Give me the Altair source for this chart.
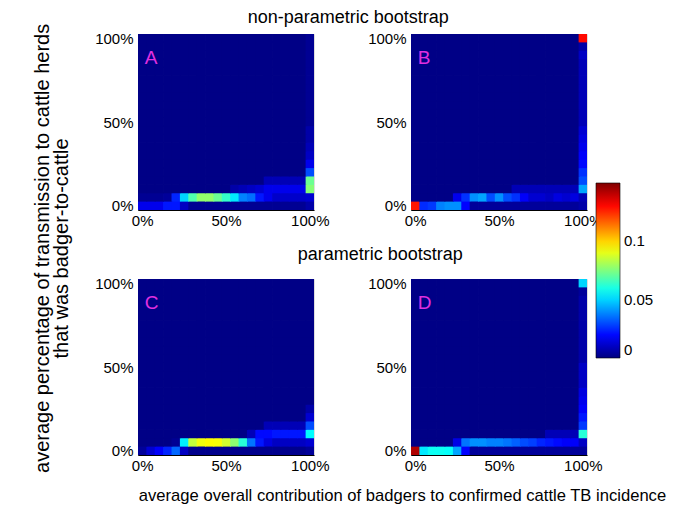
import altair as alt
import pandas as pd

# bin centres (percent) for both axes: 0%, 5%, ..., 100%
BINS = [0, 5, 10, 15, 20, 25, 30, 35, 40, 45, 50, 55, 60, 65, 70, 75, 80, 85, 90, 95, 100]
BG = 0.001  # background density

# ---- panel A (non-parametric) ----  rows 0-3 = y bins 0%,5%,10%,15% for x bins 0..95%
A_row0 = [0.016, 0.016, 0.016, 0.022, 0.022, 0.010, 0.003, 0.003, 0.003, 0.003,
          0.003, 0.003, 0.003, 0.003, 0.003, 0.003, 0.003, 0.003, 0.003, 0.003]
A_row1 = [0.003, 0.003, 0.003, 0.004, 0.024, 0.050, 0.068, 0.078, 0.078, 0.072,
          0.064, 0.053, 0.038, 0.035, 0.022, 0.016, 0.011, 0.011, 0.011, 0.011]
A_row2 = [0.001, 0.001, 0.001, 0.001, 0.001, 0.001, 0.001, 0.001, 0.001, 0.001,
          0.001, 0.006, 0.008, 0.010, 0.012, 0.016, 0.016, 0.016, 0.016, 0.016]
A_row3 = [0.001, 0.001, 0.001, 0.001, 0.001, 0.001, 0.001, 0.001, 0.001, 0.001,
          0.001, 0.001, 0.001, 0.001, 0.001, 0.008, 0.008, 0.008, 0.008, 0.008]
# x bin 100%, y bins 0%..100%
A_col20 = [0.006, 0.012, 0.076, 0.072, 0.030, 0.016, 0.010, 0.008, 0.006, 0.006, 0.003,
           0.003, 0.003, 0.003, 0.003, 0.003, 0.003, 0.003, 0.003, 0.003, 0.003]

# ---- panel B (non-parametric) ----
B_row0 = [0.128, 0.025, 0.027, 0.038, 0.040, 0.040, 0.019, 0.004, 0.004, 0.004,
          0.004, 0.004, 0.004, 0.004, 0.004, 0.004, 0.004, 0.004, 0.004, 0.004]
B_row1 = [0.001, 0.001, 0.001, 0.001, 0.001, 0.016, 0.026, 0.040, 0.043, 0.030,
          0.040, 0.030, 0.026, 0.018, 0.012, 0.012, 0.010, 0.014, 0.012, 0.014]
B_row2 = [0.001, 0.001, 0.001, 0.001, 0.001, 0.001, 0.001, 0.001, 0.001, 0.001,
          0.001, 0.001, 0.008, 0.008, 0.008, 0.008, 0.008, 0.008, 0.008, 0.008]
B_row3 = [0.001, 0.001, 0.001, 0.001, 0.001, 0.001, 0.001, 0.001, 0.001, 0.001,
          0.001, 0.001, 0.001, 0.001, 0.001, 0.001, 0.001, 0.001, 0.001, 0.001]
B_col20 = [0.006, 0.008, 0.043, 0.030, 0.026, 0.020, 0.018, 0.016, 0.014, 0.012, 0.008,
           0.008, 0.008, 0.008, 0.008, 0.008, 0.008, 0.008, 0.010, 0.006, 0.130]

# ---- panel C (parametric) ----
C_row0 = [0.004, 0.012, 0.018, 0.024, 0.034, 0.010, 0.002, 0.002, 0.002, 0.002,
          0.002, 0.002, 0.002, 0.002, 0.002, 0.002, 0.002, 0.002, 0.002, 0.002]
C_row1 = [0.001, 0.001, 0.001, 0.001, 0.003, 0.054, 0.085, 0.092, 0.094, 0.093,
          0.087, 0.077, 0.062, 0.036, 0.022, 0.014, 0.010, 0.010, 0.010, 0.010]
C_row2 = [0.001, 0.001, 0.001, 0.001, 0.001, 0.001, 0.001, 0.001, 0.001, 0.001,
          0.001, 0.001, 0.001, 0.008, 0.020, 0.020, 0.022, 0.022, 0.022, 0.022]
C_row3 = [0.001, 0.001, 0.001, 0.001, 0.001, 0.001, 0.001, 0.001, 0.001, 0.001,
          0.001, 0.001, 0.001, 0.001, 0.001, 0.008, 0.008, 0.008, 0.008, 0.008]
C_col20 = [0.004, 0.012, 0.056, 0.030, 0.012, 0.006, 0.001, 0.001, 0.001, 0.001, 0.001,
           0.001, 0.001, 0.001, 0.001, 0.001, 0.001, 0.001, 0.001, 0.001, 0.001]

# ---- panel D (parametric) ----
D_row0 = [0.143, 0.053, 0.058, 0.058, 0.057, 0.043, 0.019, 0.004, 0.004, 0.004,
          0.004, 0.004, 0.004, 0.004, 0.004, 0.004, 0.004, 0.004, 0.004, 0.004]
D_row1 = [0.001, 0.001, 0.001, 0.001, 0.001, 0.015, 0.036, 0.040, 0.040, 0.038,
          0.038, 0.036, 0.033, 0.030, 0.028, 0.024, 0.022, 0.020, 0.018, 0.018]
D_row2 = [0.001, 0.001, 0.001, 0.001, 0.001, 0.001, 0.001, 0.001, 0.001, 0.001,
          0.001, 0.001, 0.001, 0.001, 0.001, 0.001, 0.008, 0.008, 0.008, 0.008]
D_row3 = [0.001, 0.001, 0.001, 0.001, 0.001, 0.001, 0.001, 0.001, 0.001, 0.001,
          0.001, 0.001, 0.001, 0.001, 0.001, 0.001, 0.001, 0.001, 0.001, 0.001]
D_col20 = [0.004, 0.010, 0.062, 0.027, 0.022, 0.018, 0.016, 0.014, 0.010, 0.010, 0.010,
           0.006, 0.006, 0.006, 0.006, 0.006, 0.006, 0.006, 0.006, 0.004, 0.050]

PANELS = {
    "A": (A_row0, A_row1, A_row2, A_row3, A_col20),
    "B": (B_row0, B_row1, B_row2, B_row3, B_col20),
    "C": (C_row0, C_row1, C_row2, C_row3, C_col20),
    "D": (D_row0, D_row1, D_row2, D_row3, D_col20),
}

TICKS = [0, 50, 100]
CBAR_TICKS = [0, 0.05, 0.1]
JET = ["#00007F", "#0000FF", "#007FFF", "#00FFFF", "#7FFF7F",
       "#FFFF00", "#FF7F00", "#FF0000", "#7F0000"]

TOP_TITLE = "non-parametric bootstrap"
BOTTOM_TITLE = "parametric bootstrap"
Y_TITLE = ["average percentage of transmission to cattle herds", "that was badger-to-cattle"]
X_TITLE = "average overall contribution of badgers to confirmed cattle TB incidence"

FONT = "Liberation Sans"
HALF = 2.5

records = []
for name, (r0, r1, r2, r3, c20) in PANELS.items():
    rows = [r0, r1, r2, r3]
    for i, yb in enumerate(BINS):
        for j, xb in enumerate(BINS):
            if j == 20:
                v = c20[i]
            elif i < 4:
                v = rows[i][j]
            else:
                v = BG
            records.append({"panel": name, "x0": xb - HALF, "x1": xb + HALF,
                            "y0": yb - HALF, "y1": yb + HALF, "v": v})
df = pd.DataFrame(records)

color_scale = alt.Scale(domain=[0, 0.15], range=JET, interpolate="rgb")
legend = alt.Legend(type="gradient", orient="none", legendX=458, legendY=149,
                    direction="vertical", gradientLength=175, gradientThickness=24,
                    title=None, values=CBAR_TICKS, format="~g", labelFontSize=15,
                    labelFont=FONT, labelColor="black", gradientStrokeColor="black",
                    gradientStrokeWidth=0.6, labelOffset=4)

xs = alt.Scale(domain=[-HALF, 100 + HALF], nice=False, zero=False)
ys = alt.Scale(domain=[-HALF, 100 + HALF], nice=False, zero=False)


def panel(name, xtitle=None):
    xaxis_kw = dict(values=TICKS, labelExpr="datum.value + '%'", ticks=False,
                    domainColor="black", labelFontSize=15, labelPadding=3,
                    labelColor="black", labelFont=FONT, grid=False)
    if xtitle:
        xaxis = alt.Axis(title=xtitle, titleX=264, titleY=32, titleAnchor="middle",
                         titleAlign="center", titleBaseline="top", titleFontSize=16.6,
                         titleFontWeight="normal", titleFont=FONT, titleColor="black",
                         **xaxis_kw)
    else:
        xaxis = alt.Axis(title=None, **xaxis_kw)
    yaxis = alt.Axis(values=TICKS, labelExpr="datum.value + '%'", ticks=False,
                     domainColor="black", labelFontSize=15, labelPadding=5,
                     labelColor="black", labelFont=FONT, grid=False, title=None)
    d = df[df["panel"] == name]
    heat = alt.Chart(d).mark_rect(x2Offset=0.8, y2Offset=-0.8, clip=True).encode(
        x=alt.X("x0:Q", scale=xs, axis=xaxis),
        x2="x1:Q",
        y=alt.Y("y0:Q", scale=ys, axis=yaxis),
        y2="y1:Q",
        color=alt.Color("v:Q", scale=color_scale, legend=legend),
    )
    lab = pd.DataFrame({"letter": [name], "lx": [1.5], "ly": [88]})
    letter = alt.Chart(lab).mark_text(align="left", baseline="middle", fontSize=19,
                                      font=FONT, color="#E030E0").encode(
        x=alt.X("lx:Q", scale=xs, axis=xaxis),
        y=alt.Y("ly:Q", scale=ys, axis=yaxis),
        text="letter:N",
    )
    return alt.layer(heat, letter).properties(width=176, height=176)


title_kw = dict(anchor="middle", fontSize=18, font=FONT, fontWeight="normal", color="black")
top = alt.hconcat(panel("A"), panel("B"), spacing=97, bounds="flush",
                  title=alt.TitleParams(TOP_TITLE, offset=4, **title_kw))
bottom = alt.hconcat(panel("C", X_TITLE), panel("D"), spacing=97, bounds="flush",
                     title=alt.TitleParams(BOTTOM_TITLE, offset=12, **title_kw))

chart = alt.vconcat(
    top, bottom, spacing=16,
    title=alt.TitleParams(Y_TITLE, orient="left", anchor="middle", fontSize=20,
                          font=FONT, fontWeight="normal", color="black", lineHeight=19,
                          offset=22, dx=8),
).resolve_scale(color="shared").configure_view(
    stroke=None, fill="#000083"
).configure(background="white", padding={"left": 25, "top": 0, "right": 0, "bottom": 0})

chart.save("out.html", embed_options={"renderer": "svg", "actions": False})
